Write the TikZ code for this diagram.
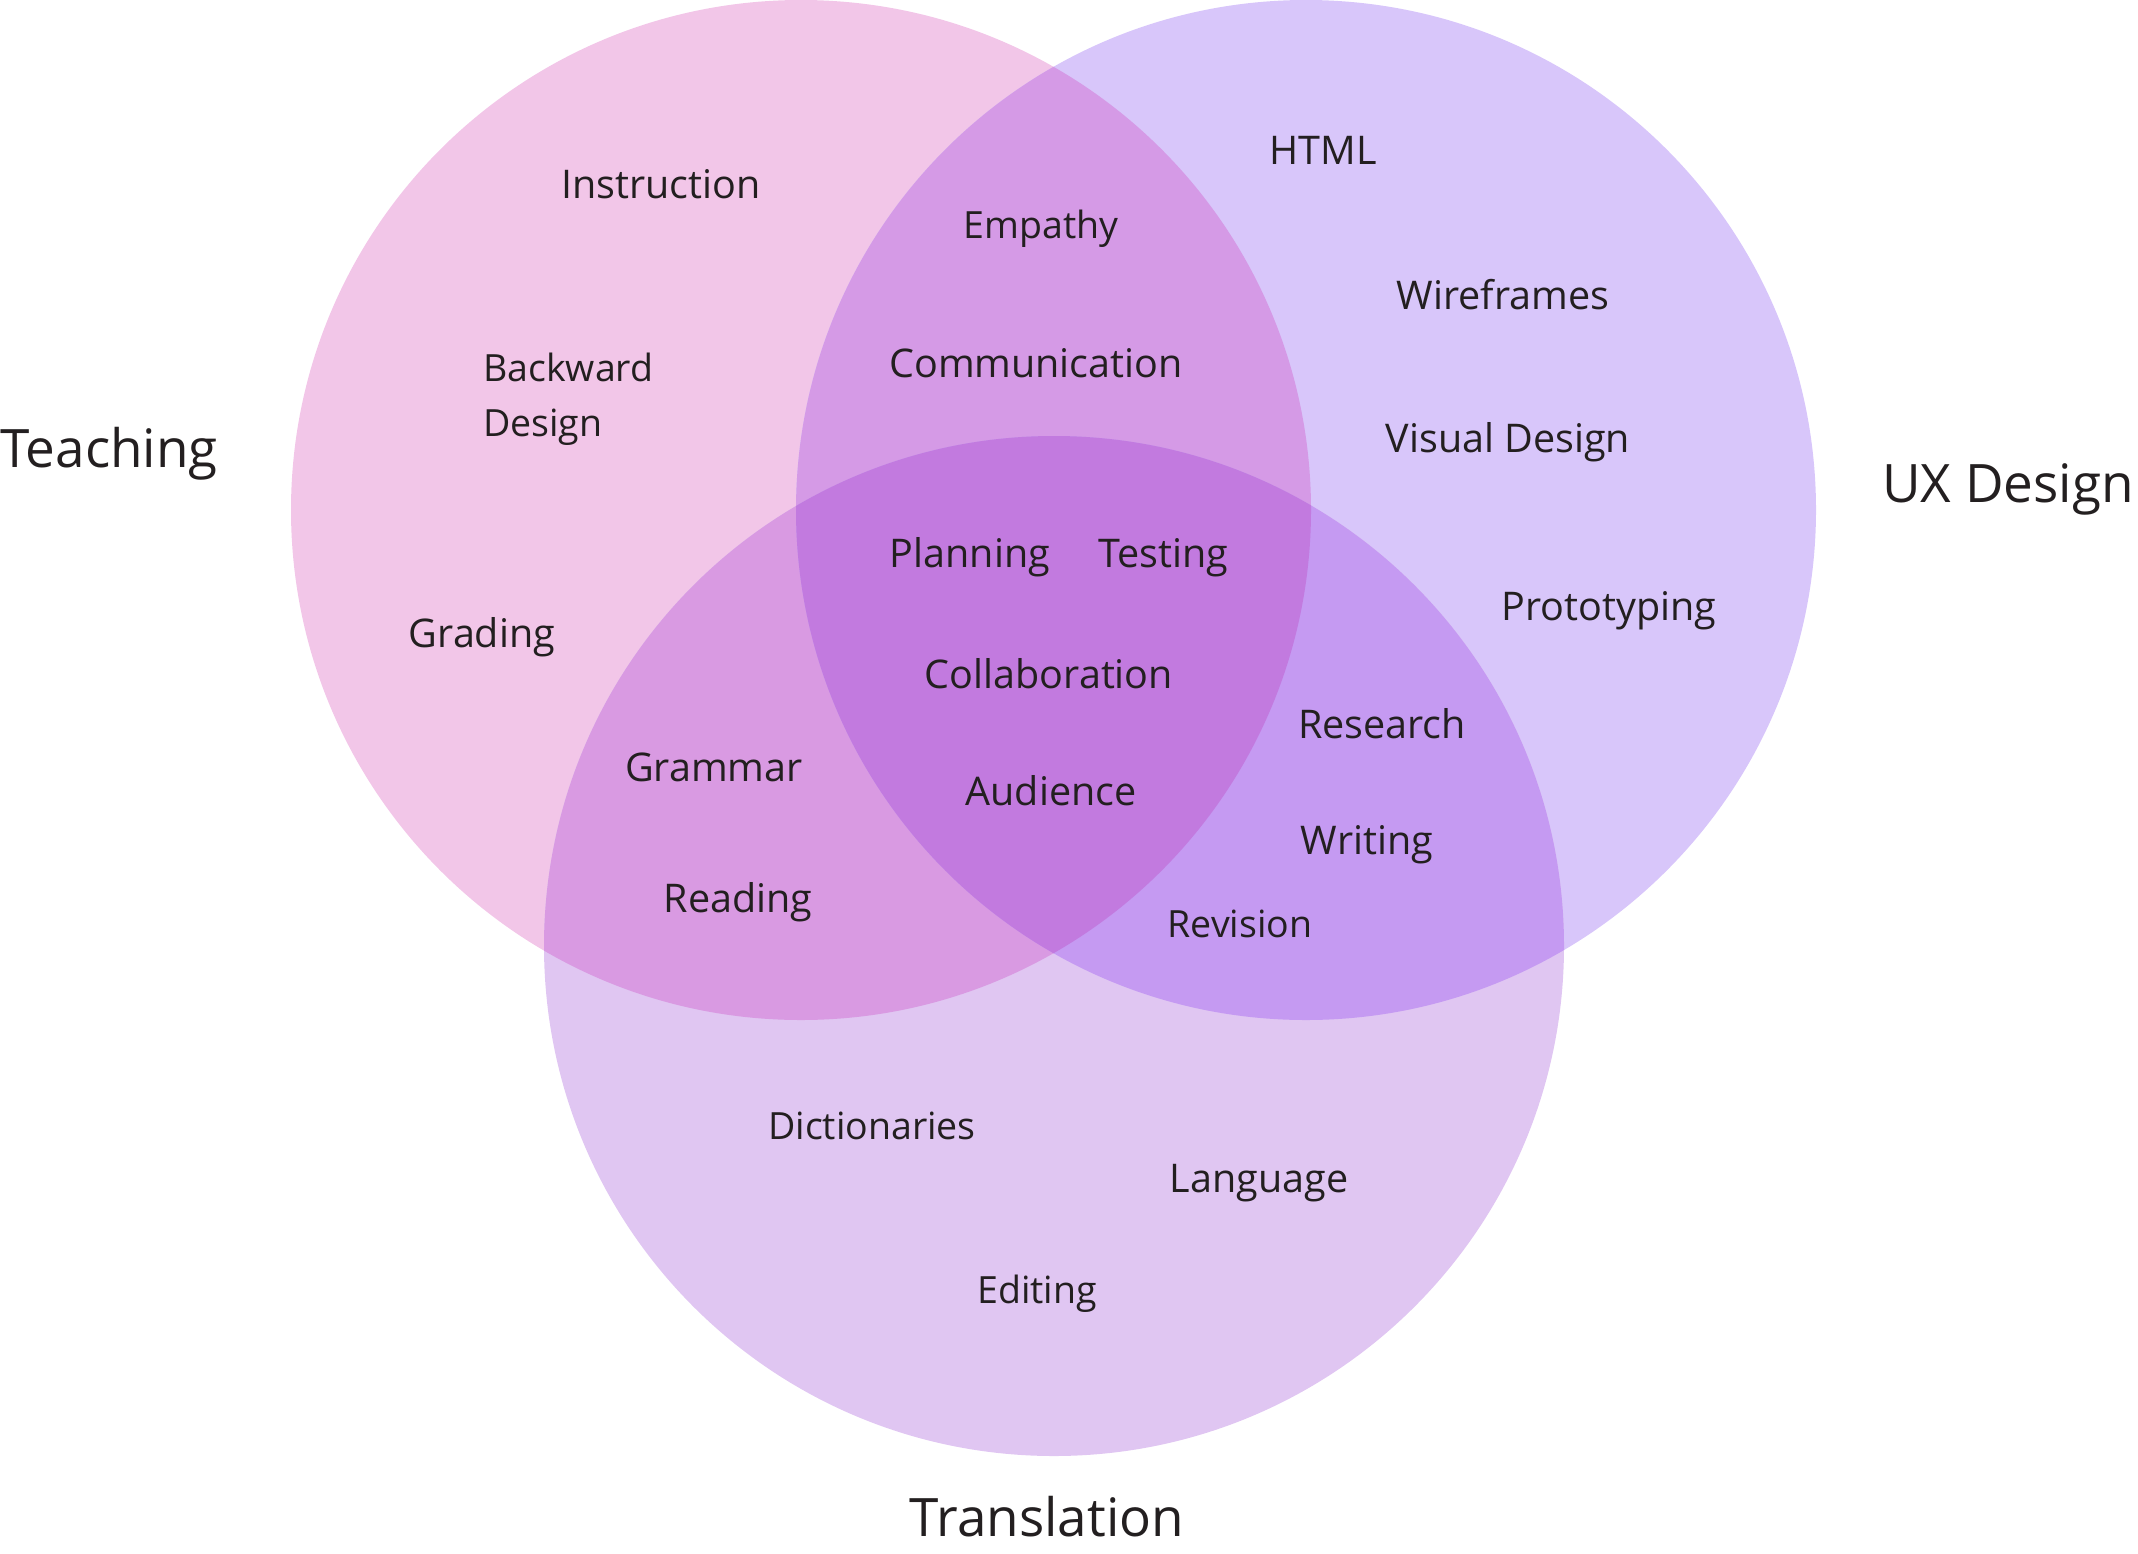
\documentclass[tikz,border=0pt]{standalone}
\usepackage{fontspec}
\setmainfont{Open Sans}
\definecolor{tc}{HTML}{F2C6E8}
\definecolor{uc}{HTML}{D8C6FA}
\definecolor{rc}{HTML}{E0C6F2}
\definecolor{tu}{HTML}{D59AE6}
\definecolor{tr}{HTML}{D99AE2}
\definecolor{ur}{HTML}{C59AF2}
\definecolor{tur}{HTML}{C27ADF}
\definecolor{txt}{HTML}{231F20}
\begin{document}
\begin{tikzpicture}[x=1pt,y=-1pt,
  lbl/.style={font=\fontsize{39.5}{48}\selectfont, text=txt, inner sep=0pt, anchor=base},
  slbl/.style={font=\fontsize{37.5}{55}\selectfont, text=txt, inner sep=0pt, anchor=base},
  big/.style={font=\fontsize{53}{60}\selectfont, text=txt, inner sep=0pt, anchor=base}]
\useasboundingbox (0,0) rectangle (2138,1553);
\coordinate (T) at (801,510);
\coordinate (U) at (1306,510);
\coordinate (R) at (1054,946);
\def\rr{510pt}
\fill[tc] (T) circle[radius=\rr];
\fill[uc] (U) circle[radius=\rr];
\fill[rc] (R) circle[radius=\rr];
\begin{scope}
  \clip (T) circle[radius=\rr];
  \fill[tu] (U) circle[radius=\rr];
  \fill[tr] (R) circle[radius=\rr];
\end{scope}
\begin{scope}
  \clip (U) circle[radius=\rr];
  \fill[ur] (R) circle[radius=\rr];
\end{scope}
\begin{scope}
  \clip (T) circle[radius=\rr];
  \clip (U) circle[radius=\rr];
  \fill[tur] (R) circle[radius=\rr];
\end{scope}
% set names
\node[big, anchor=base west] (teaching) at (0,467) {Teaching};
\node[big, anchor=base east] (ux) at (2134,502) {UX Design};
\node[big] (translation) at (1047,1536) {Translation};
% Teaching only
\node[lbl] (instruction) at (661,198) {Instruction};
\node[slbl, anchor=base west] (backward) at (483,381) {Backward};
\node[slbl, anchor=base west] (design) at (483,436) {Design};
\node[lbl] (grading) at (482,647) {Grading};
% UX only
\node[lbl] (html) at (1323,164) {HTML};
\node[lbl] (wireframes) at (1503,309) {Wireframes};
\node[lbl] (visual) at (1508,452) {Visual Design};
\node[lbl] (proto) at (1609,620) {Prototyping};
% Teaching and UX
\node[slbl] (empathy) at (1041,238) {Empathy};
\node[lbl] (comm) at (1036,377) {Communication};
% all three
\node[lbl] (planning) at (970,567) {Planning};
\node[lbl] (testing) at (1163,567) {Testing};
\node[lbl] (collab) at (1049,688) {Collaboration};
\node[lbl] (audience) at (1051,805) {Audience};
% Teaching and Translation
\node[lbl] (grammar) at (714,781) {Grammar};
\node[lbl] (reading) at (738,912) {Reading};
% UX and Translation
\node[lbl] (research) at (1382,738) {Research};
\node[lbl] (writing) at (1367,854) {Writing};
\node[slbl] (revision) at (1240,937) {Revision};
% Translation only
\node[slbl] (dict) at (872,1139) {Dictionaries};
\node[lbl] (language) at (1259,1192) {Language};
\node[slbl] (editing) at (1037,1303) {Editing};
\end{tikzpicture}
\end{document}
